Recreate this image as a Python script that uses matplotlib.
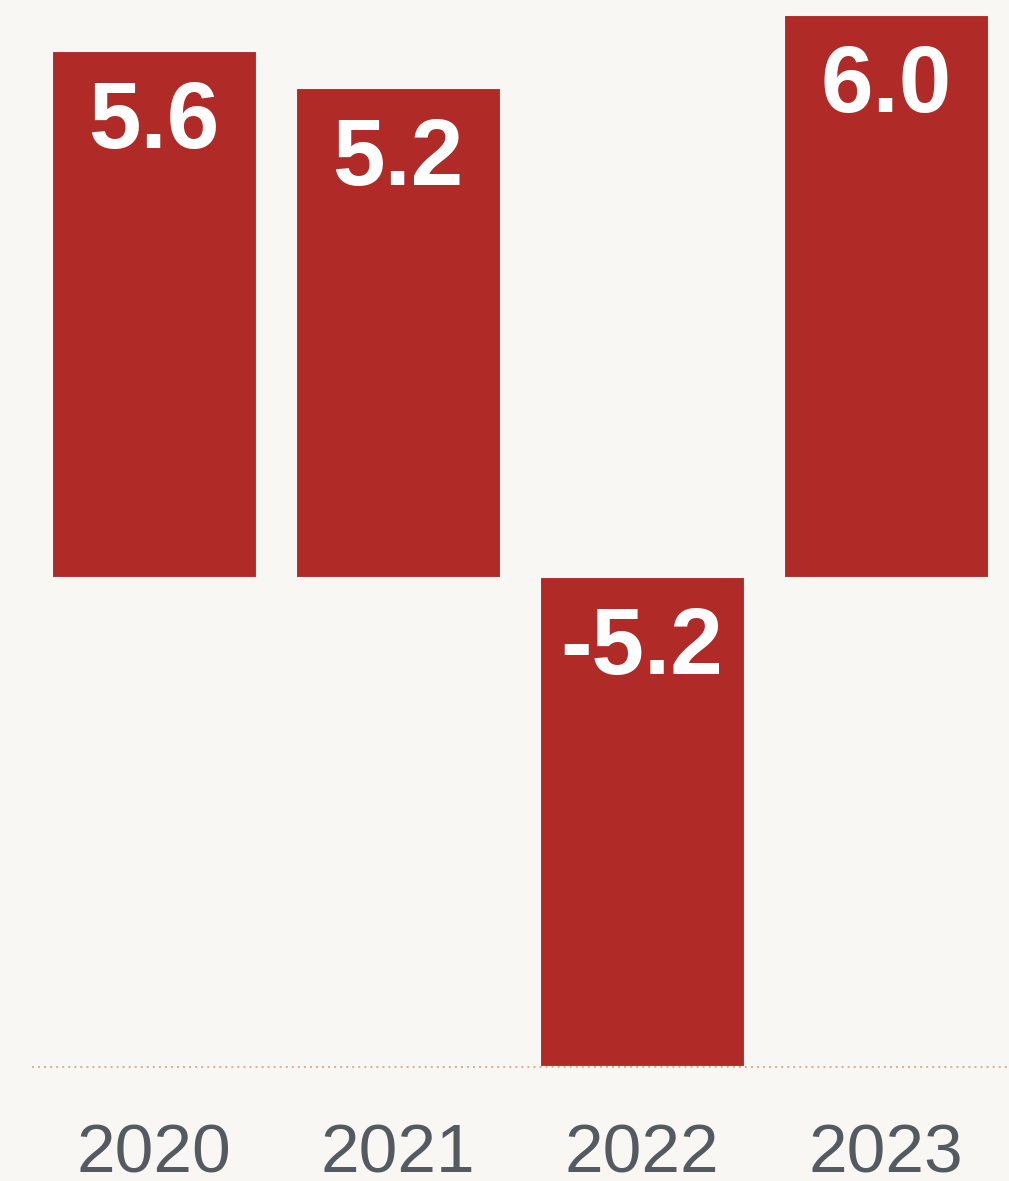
import matplotlib
matplotlib.use('Agg')
import matplotlib.pyplot as plt

# data
years = ['2020', '2021', '2022', '2023']
values = [5.6, 5.2, -5.2, 5.98]

bg = '#f8f7f4'
bar_color = '#b02a27'

fig = plt.figure(figsize=(10.09, 11.81), dpi=100, facecolor=bg)
ax = fig.add_axes([32 / 1009, 114 / 1181, 976 / 1009, 1067 / 1181])
ax.set_facecolor(bg)

x = range(len(years))
bars = ax.bar(x, values, width=0.84, color=bar_color, edgecolor=bg, linewidth=0.8)

ax.set_xlim(-0.5, 3.5)
ax.set_ylim(-5.21, 6.14)

# value labels inside the bars, near the top (or near zero for negatives)
for i, v in enumerate(values):
    top = max(v, 0)
    ax.annotate(f'{v:.1f}', (i, top), xytext=(0, -20), textcoords='offset points',
                ha='center', va='top', color='white', fontsize=68,
                fontweight='bold', family='Liberation Sans')

# dotted baseline at bottom
ax.axhline(-5.21, color='#d8b494', linestyle=(0, (1, 2)), linewidth=1.45, clip_on=False)

for s in ax.spines.values():
    s.set_visible(False)
ax.set_yticks([])
ax.set_xticks(list(x))
ax.set_xticklabels(years, fontsize=50, color='#555a60', family='Liberation Sans')
ax.tick_params(axis='x', length=0, pad=40)

fig.savefig('out.png', dpi=100, facecolor=bg)
